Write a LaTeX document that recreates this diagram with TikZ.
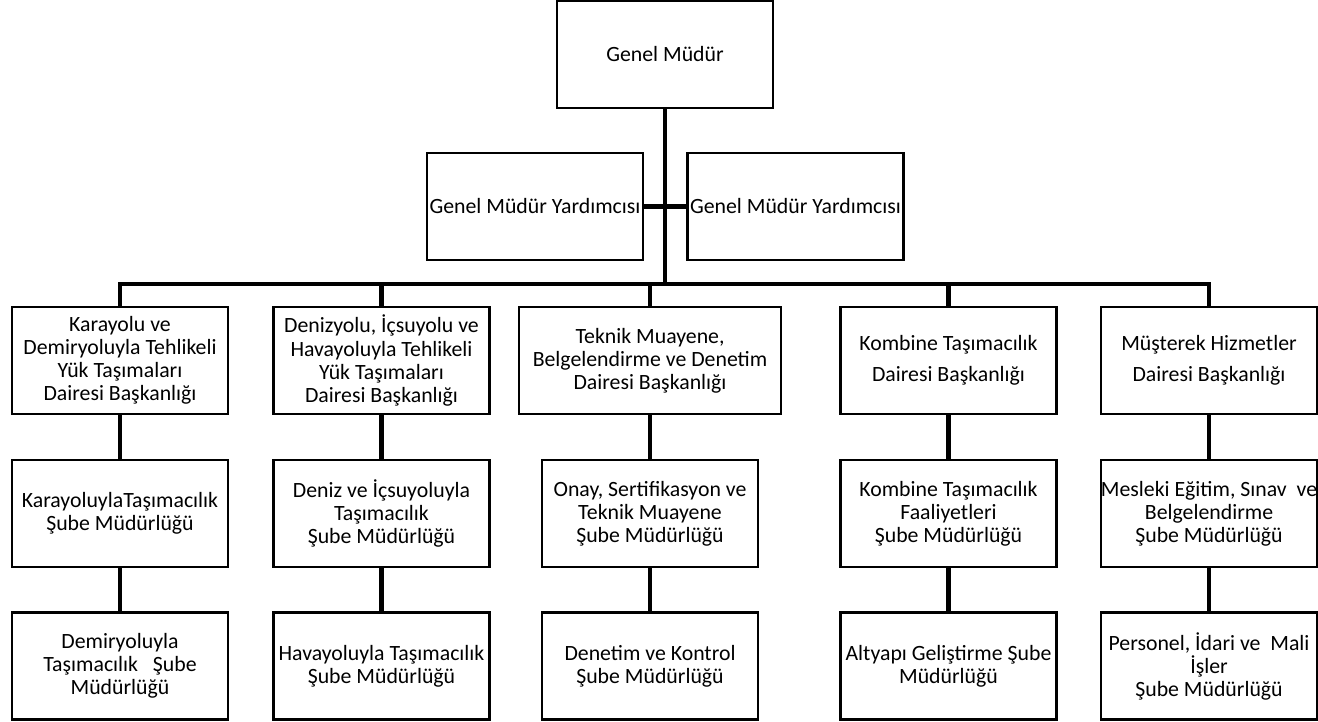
\documentclass[tikz,border=0pt]{standalone}
\usepackage{fontspec}
\setmainfont{Carlito}
\usetikzlibrary{calc}

\begin{document}
\begin{tikzpicture}[
    % Styles
    box/.style={% For the unit boxes
        rectangle,
        draw,
        line width=1.3pt,
        minimum width=4.32cm,
        minimum height=2.14cm,
        inner sep=1pt,
        align=center,
        font=\fontsize{12.4}{13.1}\selectfont,
        },
    widebox/.style={% For the wider department box
        box,
        minimum width=5.24cm,
        },
    link/.style={% For the connecting lines
        line width=2.5pt,
        },
    ]
\useasboundingbox (0,0) rectangle (26.36,-14.44);
% Top: general manager and deputies
\node [box] (gm) at (13.30,-1.09) {Genel Müdür};
\node [box] (gmy1) at (10.70,-4.13) {Genel Müdür Yardımcısı};
\node [box] (gmy2) at (15.91,-4.13) {Genel Müdür Yardımcısı};
\coordinate (bus) at (13.30,-5.68);
% Departments named d#
\node [box] (d1) at (2.40,-7.21) {Karayolu ve\\Demiryoluyla Tehlikeli\\Yük Taşımaları\\Dairesi Başkanlığı};
\node [box] (d2) at (7.63,-7.21) {Denizyolu, İçsuyolu ve\\Havayoluyla Tehlikeli\\Yük Taşımaları\\Dairesi Başkanlığı};
\node [widebox] (d3) at (13.00,-7.21) {Teknik Muayene,\\Belgelendirme ve Denetim\\Dairesi Başkanlığı};
\node [box] (d4) at (18.97,-7.21) {Kombine Taşımacılık\\[0.16cm]Dairesi Başkanlığı};
\node [box] (d5) at (24.18,-7.21) {Müşterek Hizmetler\\[0.16cm]Dairesi Başkanlığı};
% Branches, first row named sa#
\node [box] (sa1) at (2.40,-10.27) {KarayoluylaTaşımacılık\\Şube Müdürlüğü};
\node [box] (sa2) at (7.63,-10.27) {Deniz ve İçsuyoluyla\\Taşımacılık\\Şube Müdürlüğü};
\node [box] (sa3) at (13.00,-10.27) {Onay, Sertifikasyon ve\\Teknik Muayene\\Şube Müdürlüğü};
\node [box] (sa4) at (18.97,-10.27) {Kombine Taşımacılık\\Faaliyetleri\\Şube Müdürlüğü};
\node [box] (sa5) at (24.18,-10.27) {\makebox[4.2cm]{Mesleki Eğitim, Sınav~~ve}\\Belgelendirme\\Şube Müdürlüğü};
% Branches, second row named sb#
\node [box] (sb1) at (2.40,-13.32) {Demiryoluyla\\Taşımacılık~~~Şube\\Müdürlüğü};
\node [box] (sb2) at (7.63,-13.32) {Havayoluyla Taşımacılık\\Şube Müdürlüğü};
\node [box] (sb3) at (13.00,-13.32) {Denetim ve Kontrol\\Şube Müdürlüğü};
\node [box] (sb4) at (18.97,-13.32) {Altyapı Geliştirme Şube\\Müdürlüğü};
\node [box] (sb5) at (24.18,-13.32) {Personel, İdari ve~~Mali\\İşler\\Şube Müdürlüğü};
% Connections
\draw [link] (gm) -- (bus);
\draw [link] (gmy1.east) -- (gmy2.west);
\draw [link] (d1) |- (bus) -| (d5);
\draw [link] (d2) -- (d2 |- bus);
\draw [link] (d3) -- (d3 |- bus);
\draw [link] (d4) -- (d4 |- bus);
\draw [link] (d1) -- (sa1) -- (sb1);
\draw [link] (d2) -- (sa2) -- (sb2);
\draw [link] (d3) -- (sa3) -- (sb3);
\draw [link] (d4) -- (sa4) -- (sb4);
\draw [link] (d5) -- (sa5) -- (sb5);
\end{tikzpicture}
\end{document}
